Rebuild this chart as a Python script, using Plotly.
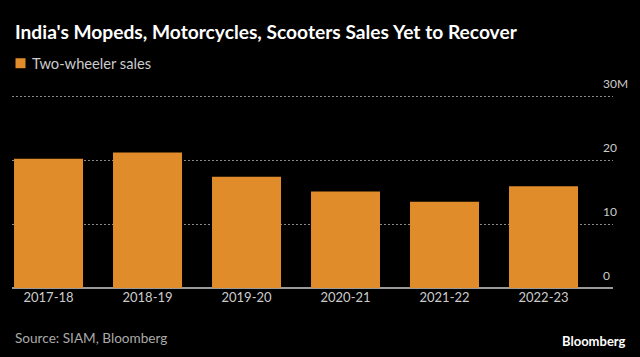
import plotly.graph_objects as go

categories = ["2017-18", "2018-19", "2019-20", "2020-21", "2021-22", "2022-23"]
sales_m = [20.2, 21.2, 17.4, 15.1, 13.5, 15.9]
y_ticks = [0, 10, 20, 30]
y_tick_text = ["0", "10", "20", "30M"]

BAR = "#E08C2A"
W, H = 640, 357
ML, MR, MT, MB = 12, 27, 92.8, 69
PW = W - ML - MR
PH = H - MT - MB

def px_x(px):
    return (px - ML) / PW

def px_y(py):
    return (H - MB - py) / PH

fig = go.Figure()
fig.add_trace(go.Bar(x=categories, y=sales_m, marker=dict(color=BAR, line=dict(width=0)),
                     showlegend=False, hoverinfo="x+y"))

fig.update_layout(
    width=W, height=H,
    paper_bgcolor="#000000", plot_bgcolor="#000000",
    margin=dict(l=ML, r=MR, t=MT, b=MB),
    bargap=0.303,
    font=dict(family="Lato, Roboto, sans-serif", color="#cccccc"),
    title=dict(text="<b>India's Mopeds, Motorcycles, Scooters Sales Yet to Recover</b>",
               x=15 / W, xref="container", xanchor="left",
               y=1 - 32 / H, yref="container", yanchor="middle",
               font=dict(size=19.2, color="#ffffff", family="Lato, Roboto, sans-serif")),
    xaxis=dict(range=[-0.369, 5.702], showgrid=False, zeroline=False, showline=False,
               ticks="", tickfont=dict(size=13, color="#cccccc"), fixedrange=True),
    yaxis=dict(range=[0, 30.5], tickvals=y_ticks, showticklabels=False,
               showgrid=True, gridcolor="#8a8a8a", griddash="2px,2px", gridwidth=1,
               zeroline=True, zerolinecolor="#9a9a9a", zerolinewidth=1.5,
               showline=False, ticks="", fixedrange=True),
)

for v, t in zip(y_ticks, y_tick_text):
    fig.add_annotation(x=px_x(601), xref="paper", xanchor="left",
                       y=v, yref="y", yanchor="middle", yshift=13,
                       text=t, showarrow=False,
                       font=dict(size=12, color="#cccccc"))

# legend
fig.add_shape(type="rect", xref="paper", yref="paper",
              x0=px_x(15.5), x1=px_x(25.5), y0=px_y(68), y1=px_y(58),
              fillcolor=BAR, line=dict(width=0))
fig.add_annotation(x=px_x(30), xref="paper", xanchor="left",
                   y=px_y(63), yref="paper", yanchor="middle",
                   text="Two-wheeler sales", showarrow=False,
                   font=dict(size=14.7, color="#cccccc"))

fig.add_annotation(x=px_x(13), xref="paper", xanchor="left",
                   y=px_y(338), yref="paper", yanchor="middle",
                   text="Source: SIAM, Bloomberg", showarrow=False,
                   font=dict(size=13.6, color="#aaaaaa"))
fig.add_annotation(x=px_x(628), xref="paper", xanchor="right",
                   y=px_y(341), yref="paper", yanchor="middle",
                   text="<b>Bloomberg</b>", showarrow=False,
                   font=dict(size=13, color="#ffffff"))

fig.write_html("out.html", config={"displayModeBar": False},
               post_script="document.body.style.margin='0';document.body.style.overflow='hidden';")
